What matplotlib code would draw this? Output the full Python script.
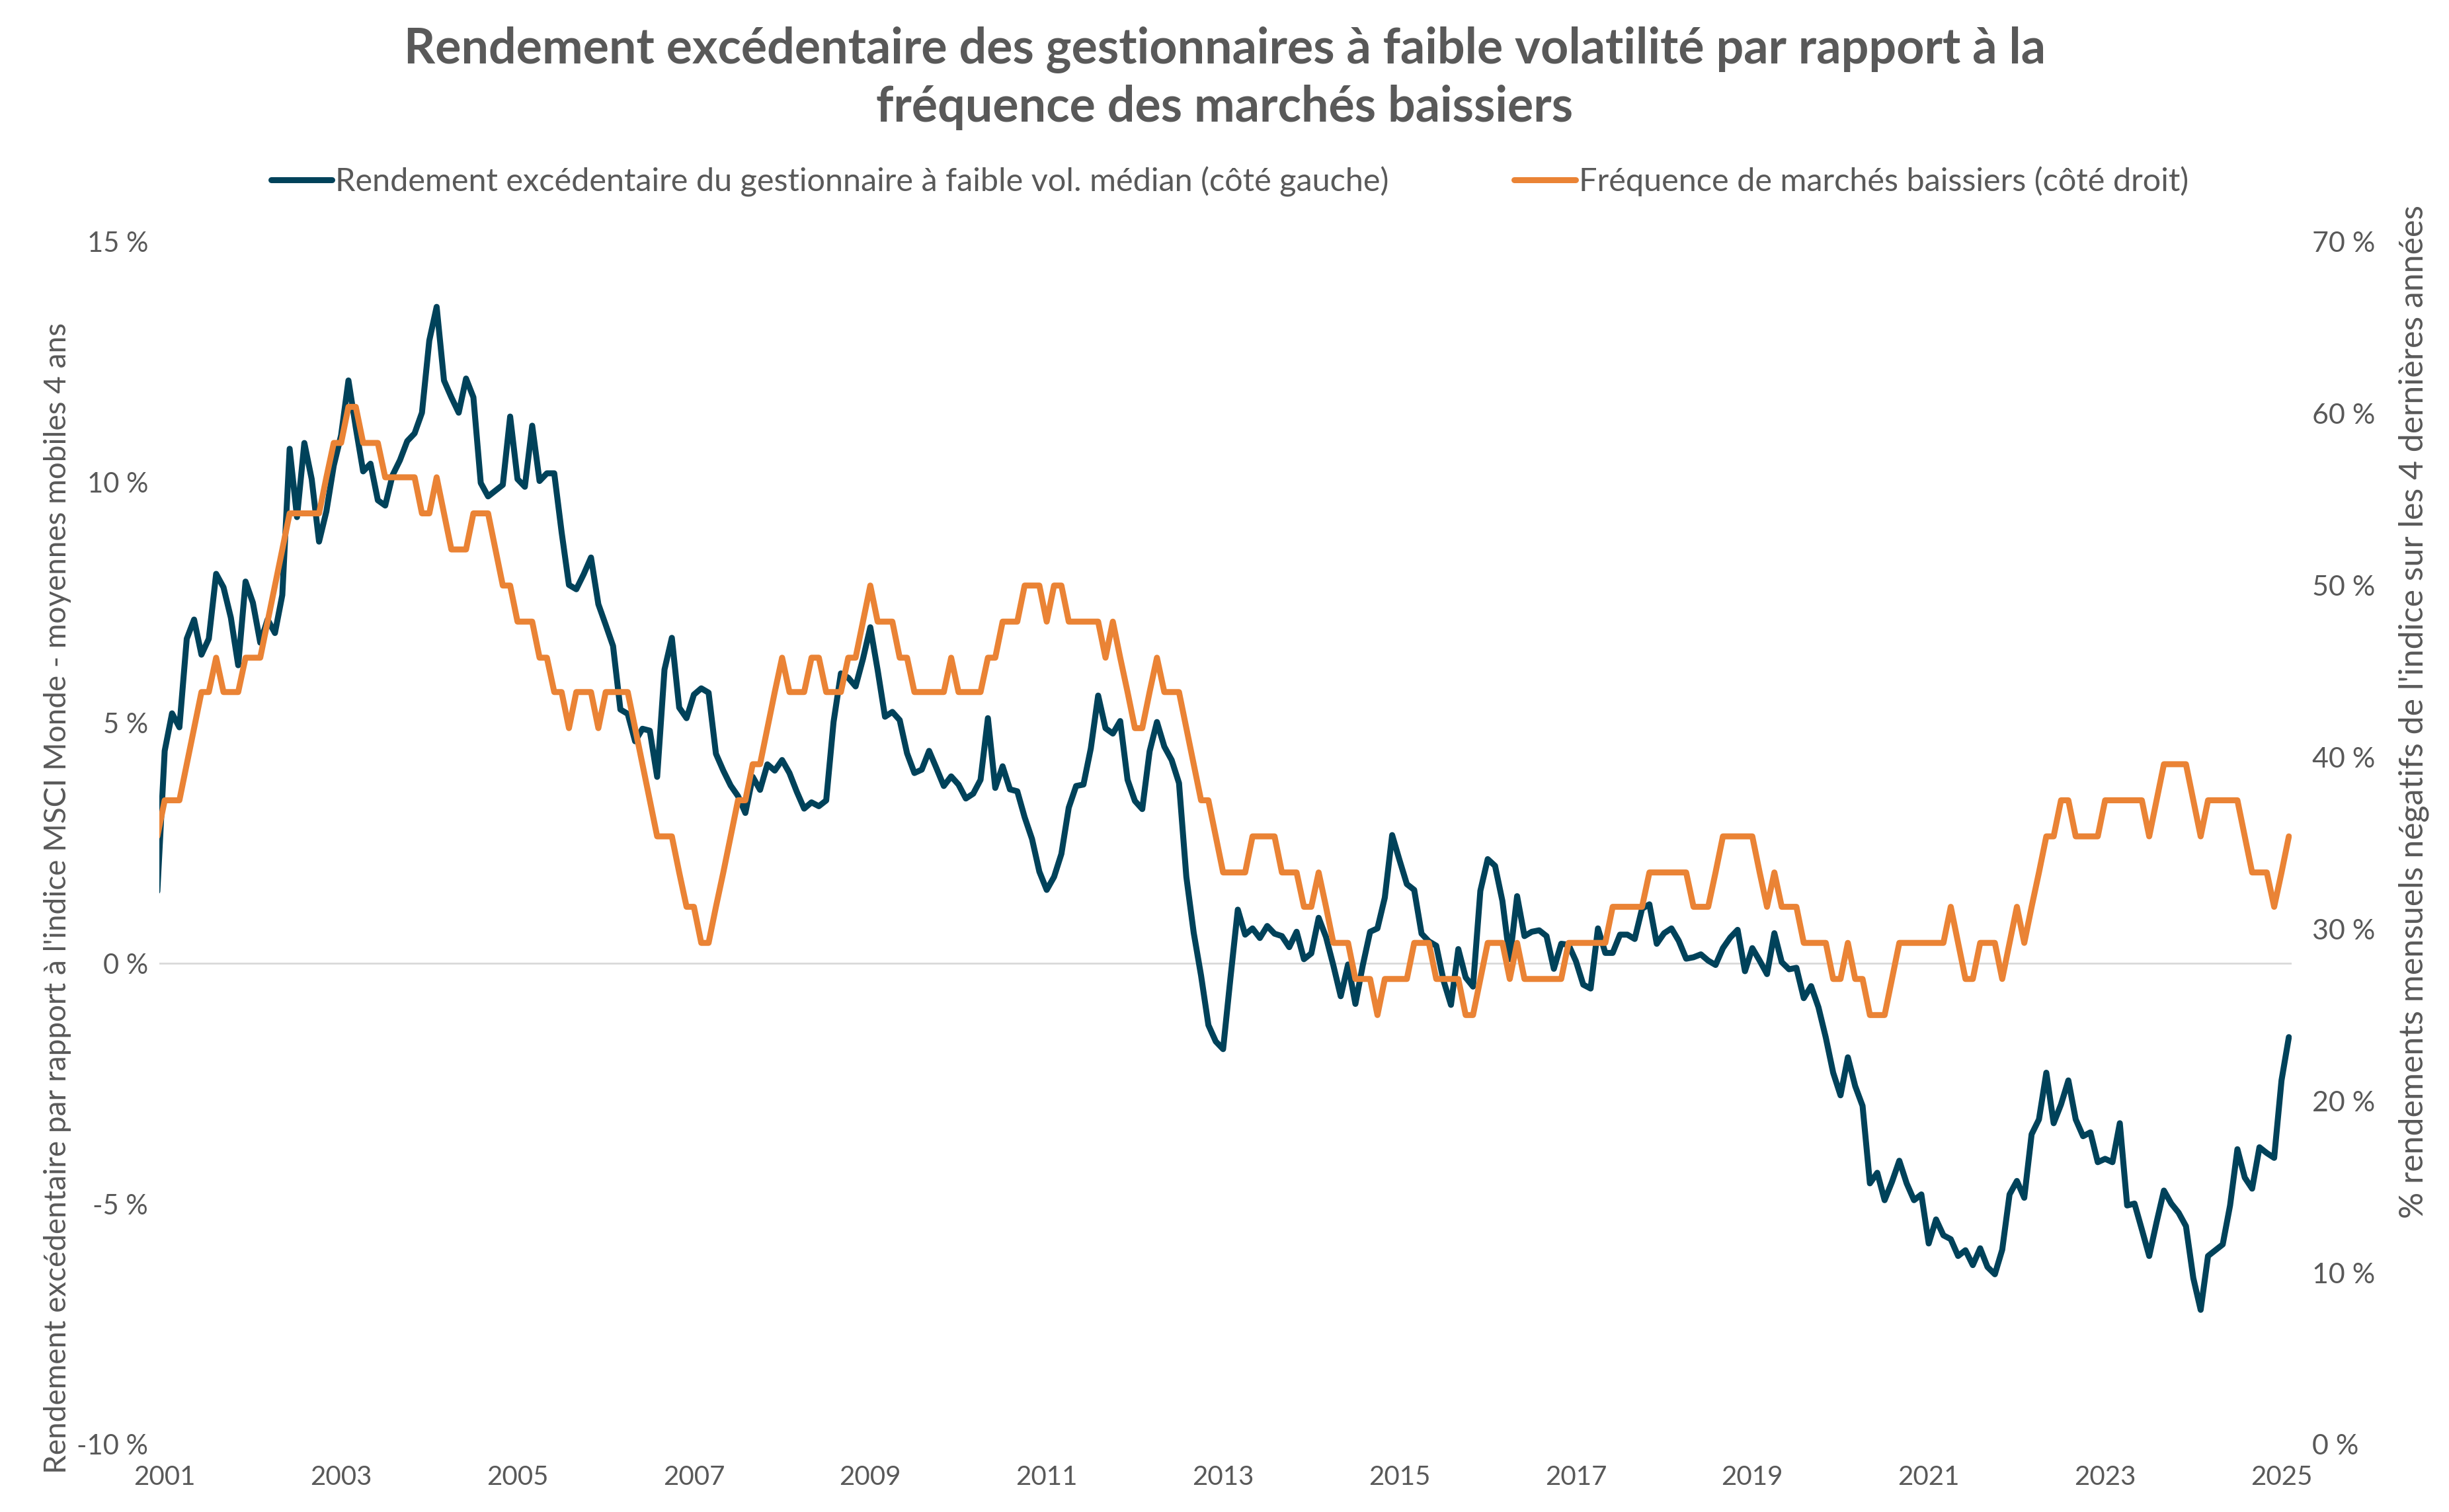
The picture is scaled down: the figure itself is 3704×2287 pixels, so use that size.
import pandas as pd
import matplotlib
matplotlib.use("Agg")
import matplotlib.pyplot as plt
from matplotlib.lines import Line2D

plt.rcParams['font.family'] = ['Lato', 'DejaVu Sans']

# monthly series, first point = December 2000 (sits just left of the axis edge)
start_month = '2000-12'

# median low-vol manager excess return vs MSCI World, 4y rolling (%), left axis
excess_return = [
    1.5,
    4.42, 5.20, 4.91, 6.75, 7.15, 6.42, 6.75, 8.10, 7.82, 7.19, 6.20, 7.94,
    7.50, 6.67, 7.15, 6.87, 7.66, 10.70, 9.28, 10.82, 10.07, 8.77, 9.40, 10.35,
    10.98, 12.12, 11.14, 10.23, 10.39, 9.63, 9.52, 10.15, 10.46, 10.86, 11.02, 11.45,
    12.95, 13.65, 12.12, 11.77, 11.45, 12.16, 11.77, 9.99, 9.71, 9.83, 9.95, 11.37,
    10.07, 9.91, 11.18, 10.03, 10.19, 10.19, 8.97, 7.87, 7.78, 8.09, 8.44, 7.47,
    7.04, 6.60, 5.28, 5.19, 4.62, 4.88, 4.84, 3.88, 6.11, 6.77, 5.32, 5.10,
    5.59, 5.72, 5.63, 4.36, 4.01, 3.70, 3.48, 3.13, 3.88, 3.61, 4.14, 4.01,
    4.23, 3.96, 3.57, 3.22, 3.35, 3.27, 3.39, 5.02, 6.03, 5.94, 5.76, 6.33,
    6.99, 6.10, 5.13, 5.23, 5.06, 4.37, 3.96, 4.03, 4.42, 4.06, 3.69, 3.89,
    3.72, 3.43, 3.53, 3.82, 5.10, 3.65, 4.10, 3.62, 3.58, 3.04, 2.59, 1.91,
    1.53, 1.80, 2.28, 3.24, 3.69, 3.72, 4.47, 5.57, 4.89, 4.78, 5.04, 3.82,
    3.38, 3.21, 4.41, 5.02, 4.51, 4.23, 3.75, 1.80, 0.64, -0.25, -1.28, -1.62,
    -1.78, -0.30, 1.12, 0.60, 0.73, 0.53, 0.78, 0.62, 0.57, 0.34, 0.66, 0.09,
    0.21, 0.95, 0.55, -0.04, -0.68, -0.02, -0.84, -0.04, 0.66, 0.73, 1.37, 2.67,
    2.15, 1.65, 1.53, 0.62, 0.46, 0.37, -0.36, -0.86, 0.30, -0.29, -0.48, 1.51,
    2.17, 2.03, 1.30, 0.09, 1.40, 0.57, 0.66, 0.69, 0.57, -0.11, 0.41, 0.39,
    0.05, -0.44, -0.52, 0.73, 0.22, 0.22, 0.60, 0.60, 0.51, 1.14, 1.23, 0.41,
    0.63, 0.73, 0.47, 0.10, 0.13, 0.19, 0.06, -0.03, 0.32, 0.54, 0.70, -0.16,
    0.32, 0.06, -0.22, 0.63, 0.03, -0.12, -0.09, -0.72, -0.47, -0.91, -1.54, -2.27,
    -2.74, -1.95, -2.55, -2.96, -4.57, -4.35, -4.92, -4.54, -4.10, -4.57, -4.92, -4.80,
    -5.82, -5.32, -5.65, -5.73, -6.08, -5.96, -6.27, -5.92, -6.31, -6.46, -5.95, -4.80,
    -4.52, -4.87, -3.55, -3.24, -2.27, -3.32, -2.93, -2.43, -3.24, -3.59, -3.51, -4.13,
    -4.06, -4.13, -3.32, -5.03, -4.99, -5.53, -6.08, -5.38, -4.72, -4.99, -5.18, -5.46,
    -6.54, -7.20, -6.08, -5.96, -5.84, -5.03, -3.86, -4.45, -4.68, -3.82, -3.94, -4.04,
    -2.43, -1.53,
]

# share of negative index months over the last 4 years (%), right axis
bear_freq = [
    35.4,
    37.5, 37.5, 37.5, 39.6, 41.7, 43.8, 43.8, 45.8, 43.8, 43.8, 43.8, 45.8,
    45.8, 45.8, 47.9, 50.0, 52.1, 54.2, 54.2, 54.2, 54.2, 54.2, 56.3, 58.3,
    58.3, 60.4, 60.4, 58.3, 58.3, 58.3, 56.3, 56.3, 56.3, 56.3, 56.3, 54.2,
    54.2, 56.3, 54.2, 52.1, 52.1, 52.1, 54.2, 54.2, 54.2, 52.1, 50.0, 50.0,
    47.9, 47.9, 47.9, 45.8, 45.8, 43.8, 43.8, 41.7, 43.8, 43.8, 43.8, 41.7,
    43.8, 43.8, 43.8, 43.8, 41.7, 39.6, 37.5, 35.4, 35.4, 35.4, 33.3, 31.3,
    31.3, 29.2, 29.2, 31.3, 33.3, 35.4, 37.5, 37.5, 39.6, 39.6, 41.7, 43.8,
    45.8, 43.8, 43.8, 43.8, 45.8, 45.8, 43.8, 43.8, 43.8, 45.8, 45.8, 47.9,
    50.0, 47.9, 47.9, 47.9, 45.8, 45.8, 43.8, 43.8, 43.8, 43.8, 43.8, 45.8,
    43.8, 43.8, 43.8, 43.8, 45.8, 45.8, 47.9, 47.9, 47.9, 50.0, 50.0, 50.0,
    47.9, 50.0, 50.0, 47.9, 47.9, 47.9, 47.9, 47.9, 45.8, 47.9, 45.8, 43.8,
    41.7, 41.7, 43.8, 45.8, 43.8, 43.8, 43.8, 41.7, 39.6, 37.5, 37.5, 35.4,
    33.3, 33.3, 33.3, 33.3, 35.4, 35.4, 35.4, 35.4, 33.3, 33.3, 33.3, 31.3,
    31.3, 33.3, 31.3, 29.2, 29.2, 29.2, 27.1, 27.1, 27.1, 25.0, 27.1, 27.1,
    27.1, 27.1, 29.2, 29.2, 29.2, 27.1, 27.1, 27.1, 27.1, 25.0, 25.0, 27.1,
    29.2, 29.2, 29.2, 27.1, 29.2, 27.1, 27.1, 27.1, 27.1, 27.1, 27.1, 29.2,
    29.2, 29.2, 29.2, 29.2, 29.2, 31.3, 31.3, 31.3, 31.3, 31.3, 33.3, 33.3,
    33.3, 33.3, 33.3, 33.3, 31.3, 31.3, 31.3, 33.3, 35.4, 35.4, 35.4, 35.4,
    35.4, 33.3, 31.3, 33.3, 31.3, 31.3, 31.3, 29.2, 29.2, 29.2, 29.2, 27.1,
    27.1, 29.2, 27.1, 27.1, 25.0, 25.0, 25.0, 27.1, 29.2, 29.2, 29.2, 29.2,
    29.2, 29.2, 29.2, 31.3, 29.2, 27.1, 27.1, 29.2, 29.2, 29.2, 27.1, 29.2,
    31.3, 29.2, 31.3, 33.3, 35.4, 35.4, 37.5, 37.5, 35.4, 35.4, 35.4, 35.4,
    37.5, 37.5, 37.5, 37.5, 37.5, 37.5, 35.4, 37.5, 39.6, 39.6, 39.6, 39.6,
    37.5, 35.4, 37.5, 37.5, 37.5, 37.5, 37.5, 35.4, 33.3, 33.3, 33.3, 31.3,
    33.3, 35.4,
]

left_ticks = [-10, -5, 0, 5, 10, 15]
right_ticks = [0, 10, 20, 30, 40, 50, 60, 70]
year_ticks = list(range(2001, 2026, 2))

title = ("Rendement excédentaire des gestionnaires à faible volatilité par rapport à la\n"
         "fréquence des marchés baissiers")
legend_labels = ["Rendement excédentaire du gestionnaire à faible vol. médian (côté gauche)",
                 "Fréquence de marchés baissiers (côté droit)"]
left_label = "Rendement excédentaire par rapport à l'indice MSCI Monde - moyennes mobiles 4 ans"
right_label = "% rendements mensuels négatifs de l'indice sur les 4 dernières années"

blue = '#00425a'
orange = '#ea8335'
grey_text = '#595959'

months = pd.date_range(start_month, periods=len(excess_return), freq='MS')
x = months.year + (months.month - 1) / 12

fig = plt.figure(figsize=(37.05, 22.87), dpi=100)
ax = fig.add_axes([0.065, 0.0446, 0.8705, 0.7954])
ax2 = ax.twinx()

ax.axhline(0, color='#d9d9d9', lw=2, zorder=0)
ax.plot(x, excess_return, color=blue, lw=6.5, solid_joinstyle='round', solid_capstyle='round')
ax2.plot(x, bear_freq, color=orange, lw=6.5, solid_joinstyle='round', solid_capstyle='round')

ax.set_xlim(2000.938, 2025.115)
ax.set_ylim(-10, 15)
ax2.set_ylim(0, 70)

for a in (ax, ax2):
    for s in a.spines.values():
        s.set_visible(False)

ax.set_xticks(year_ticks)
ax.set_xticklabels([str(y) for y in year_ticks])
ax.set_yticks(left_ticks)
ax.set_yticklabels(['%d %%' % v for v in left_ticks])
ax2.set_yticks(right_ticks)
ax2.set_yticklabels(['%d %%' % v for v in right_ticks])

ax.tick_params(axis='y', length=0, pad=12, labelsize=30, labelcolor=grey_text)
ax.tick_params(axis='x', length=0, pad=22, labelsize=29, labelcolor=grey_text)
ax2.tick_params(axis='y', length=0, pad=22, labelsize=31, labelcolor=grey_text)

fig.text(0.5, 0.9482, title, ha='center', va='center', fontsize=53, fontweight='bold',
         color=grey_text, linespacing=1.30)

handles = [Line2D([], [], color=blue, lw=6.5, solid_capstyle='round'),
           Line2D([], [], color=orange, lw=6.5, solid_capstyle='round')]
fig.legend(handles, legend_labels, loc='center', bbox_to_anchor=(0.502, 0.880), ncol=2,
           frameon=False, fontsize=35, handlelength=1.9, handletextpad=0.1,
           columnspacing=3.9, labelcolor=grey_text)

fig.text(0.0235, 0.4058, left_label, rotation=90, ha='center', va='center',
         fontsize=33, color=grey_text)
fig.text(0.9854, 0.5295, right_label, rotation=90, ha='center', va='center',
         fontsize=36, color=grey_text)

plt.savefig('out.png', dpi=100)
plt.close()
